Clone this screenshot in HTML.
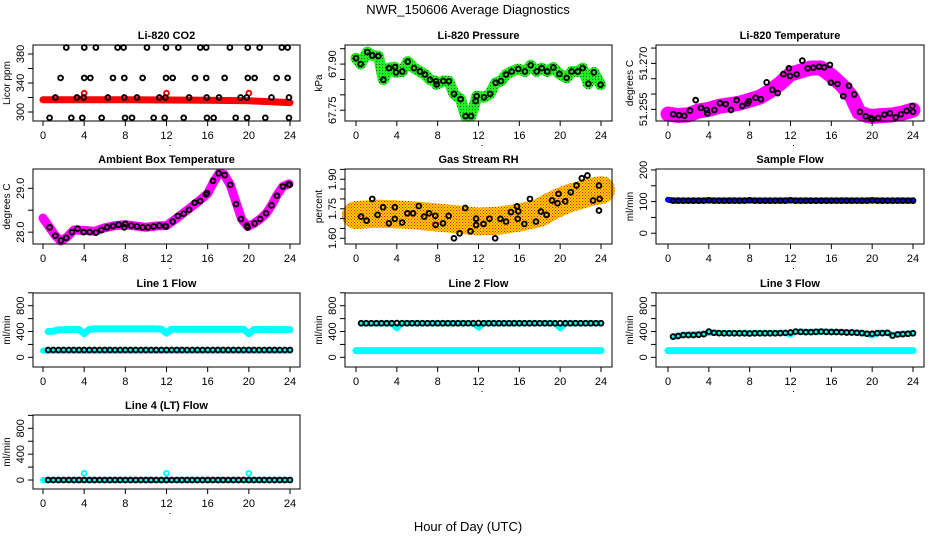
<!DOCTYPE html>
<html><head><meta charset="utf-8">
<style>
html,body{margin:0;padding:0;background:#fff;}
svg{display:block;font-family:"Liberation Sans",sans-serif;}
</style></head>
<body>
<svg id="chart" width="936" height="540" viewBox="0 0 936 540" xmlns="http://www.w3.org/2000/svg">
<defs>
<pattern id="rhpat" width="3" height="3" patternUnits="userSpaceOnUse">
<rect width="3" height="3" fill="#ffd400"/><rect x="0" y="0" width="1" height="1" fill="#e8140a"/><rect x="1.5" y="1.5" width="1" height="1" fill="#e8140a"/>
</pattern>
<pattern id="grpat" width="3" height="3" patternUnits="userSpaceOnUse">
<rect width="3" height="3" fill="#22ee22"/><rect x="1" y="1" width="1" height="1" fill="#116611"/>
</pattern>
</defs>
<text x="468" y="14" text-anchor="middle" font-size="13">NWR_150606  Average Diagnostics</text>
<text x="468" y="531" text-anchor="middle" font-size="13">Hour of Day (UTC)</text>
</svg>
<script>
// ---------- data ----------
const xTicks = [0,4,8,12,16,20,24];

const co2Hours = [2.26,4.01,5.14,7.25,7.83,10.1,11.95,13.15,15.28,15.86,18.16,19.9,21.05,23.2,23.77,
 1.71,4.01,4.6,6.8,7.9,9.68,11.95,12.6,14.77,15.86,17.65,19.9,20.56,22.7,23.77,
 1.2,3.3,3.95,6.3,7.9,9.13,11.3,11.9,14.2,15.9,17.1,19.2,19.8,22.2,23.9,
 0.64,2.75,3.82,5.7,7.97,8.65,10.75,11.82,13.67,15.93,16.58,18.72,19.82,21.6,23.9];
const co2Values = [389,389,389,389,389,389,389,389,389,389,389,389,389,389,389,
 347,347,347,347,347,347,347,347,347,347,347,347,347,347,347,
 320,320,320,320,320,320,320,320,320,320,320,320,320,320,320,
 292,292,292,292,292,292,292,292,292,292,292,292,292,292,292];
const co2BandHours = [0,4,8,12,16,20,24];
const co2BandValues = [317,317,316.8,316.5,316.2,315.5,313];
const co2SpikeHours = [4,12,20];
const co2SpikeValues = [326,326,326];

const pressHours = [0,0.46,1.11,1.6,2.19,2.68,3.23,3.82,3.92,4.54,5.06,5.68,6.27,6.76,7.25,7.84,7.9,8.55,9.1,9.6,10.25,10.74,11.27,11.72,11.82,12.54,13.13,13.68,14.2,14.7,15.25,15.9,16.55,17.11,17.7,18.19,18.74,19.33,19.92,20.64,21.13,21.72,22.2,22.76,23.3,23.96];
const pressValues = [67.919,67.90,67.939,67.928,67.926,67.849,67.887,67.890,67.873,67.876,67.908,67.887,67.876,67.866,67.849,67.844,67.834,67.845,67.844,67.803,67.786,67.731,67.731,67.780,67.796,67.792,67.803,67.839,67.845,67.866,67.876,67.884,67.876,67.896,67.876,67.887,67.876,67.889,67.868,67.855,67.876,67.876,67.887,67.836,67.873,67.833];

const tempHours = [0.52,1.08,1.6,2.15,2.71,3.23,3.79,3.85,4.54,5.09,5.65,6.17,6.72,7.28,7.8,7.93,8.58,9.1,9.66,10.22,10.74,11.3,11.85,11.95,12.6,13.16,13.68,14.24,14.8,15.3,15.86,15.96,16.6,17.17,17.73,18.25,18.8,19.37,19.88,20.0,20.6,21.2,21.74,22.3,22.82,23.38,23.93,24.0];
const tempValues = [51.2534,51.2531,51.2529,51.2546,51.2580,51.2555,51.2548,51.2537,51.2548,51.2570,51.2567,51.2548,51.2580,51.2561,51.2570,51.2577,51.2588,51.2583,51.2638,51.2614,51.2603,51.2665,51.2684,51.2659,51.2664,51.2709,51.2684,51.2686,51.2689,51.2687,51.2695,51.2637,51.2633,51.2593,51.2627,51.2599,51.2542,51.2527,51.2522,51.2518,51.2522,51.2533,51.2537,51.2524,51.2534,51.2545,51.2561,51.2542];
const tempBandHours = [0,1,2,3,4,5,6,7,8,9,10,11,12,13,14,15,16,17,18,18.7,19.5,20,21,22,23,24];
const tempBandValues = [51.2535,51.2530,51.2532,51.2545,51.2550,51.2560,51.2565,51.2570,51.2580,51.2590,51.2610,51.2635,51.2665,51.2675,51.2685,51.2685,51.2660,51.2630,51.2590,51.2540,51.2530,51.2527,51.2530,51.2532,51.2538,51.2548];

const ambHours = [0.64,1.2,1.75,2.26,2.81,3.36,3.95,4.53,5.15,5.67,6.22,6.8,7.35,7.9,8.0,8.58,9.13,9.68,10.2,10.75,11.3,11.88,11.95,12.6,13.1,13.67,14.2,14.73,15.28,15.83,15.93,16.52,17.07,17.65,18.2,18.75,19.24,19.82,19.88,20.56,21.1,21.67,22.2,22.73,23.3,23.87,23.97];
const ambValues = [28.11,27.92,27.81,27.87,28.0,28.08,28.0,28.0,27.99,28.05,28.11,28.14,28.17,28.11,28.19,28.15,28.13,28.11,28.11,28.13,28.15,28.14,28.13,28.24,28.37,28.42,28.51,28.67,28.71,28.86,28.89,29.17,29.34,29.30,29.08,28.64,28.30,28.15,28.11,28.20,28.30,28.43,28.61,28.83,29.04,29.09,29.08];
const ambBandHours = [0,0.6,1.2,1.7,2.3,3,4,5,6,7,8,9,10,11,12,13,14,15,16,16.6,17.1,17.6,18.2,18.8,19.3,19.9,20.5,21.1,21.7,22.2,22.7,23.3,23.9];
const ambBandValues = [28.32,28.12,27.92,27.80,27.88,28.05,28.04,28.02,28.10,28.15,28.17,28.14,28.11,28.14,28.15,28.32,28.50,28.68,28.88,29.15,29.34,29.32,29.08,28.65,28.30,28.13,28.20,28.30,28.43,28.61,28.83,29.04,29.10];

const rhHours = [0.49,1.04,1.59,2.11,2.66,3.22,3.8,3.8,4.52,5.04,5.59,6.15,6.67,7.16,7.77,7.8,8.52,9.07,9.6,10.15,10.7,11.22,11.77,11.77,12.49,13.07,13.63,14.15,14.7,15.19,15.77,15.84,15.9,16.49,17.04,17.63,18.12,18.67,19.2,19.74,19.84,20.49,21.04,21.6,22.12,22.67,23.22,23.8,23.8,23.87];
const rhValues = [1.710,1.690,1.800,1.719,1.758,1.676,1.758,1.699,1.680,1.727,1.727,1.764,1.710,1.727,1.714,1.668,1.676,1.714,1.600,1.625,1.754,1.636,1.700,1.668,1.673,1.699,1.600,1.699,1.685,1.733,1.762,1.699,1.737,1.673,1.800,1.685,1.736,1.719,1.792,1.778,1.826,1.788,1.834,1.868,1.905,1.919,1.792,1.868,1.741,1.800];
const rhBandHours = [0,2,4,6,8,10,12,14,16,18,19,20,21,22,23,24];
const rhBandValues = [1.718,1.725,1.722,1.715,1.705,1.695,1.685,1.690,1.705,1.730,1.760,1.785,1.805,1.820,1.835,1.845];

const flowHours = [0.5,1,1.5,2,2.5,3,3.5,4,4.5,5,5.5,6,6.5,7,7.5,8,8.5,9,9.5,10,10.5,11,11.5,12,12.5,13,13.5,14,14.5,15,15.5,16,16.5,17,17.5,18,18.5,19,19.5,20,20.5,21,21.5,22,22.5,23,23.5,24];
const sampleFlow = [103,103,103,103,103,103,103,104,103,103,103,103,103,103,103,104,103,103,103,103,103,103,103,104,103,103,103,103,103,103,103,103,103,103,103,103,103,103,103,104,103,103,103,103,103,103,103,103];
const line1Flow = [114,114,114,114,114,114,114,114,114,114,114,114,114,114,114,114,114,114,114,114,114,114,114,114,114,114,114,114,114,114,114,114,114,114,114,114,114,114,114,114,114,114,114,114,114,114,114,114];
const line1Cyan = [400,405,425,428,430,432,432,370,432,440,440,440,440,440,440,440,440,440,440,440,440,440,436,375,436,436,436,436,436,436,436,436,434,434,434,434,434,434,434,365,432,432,432,430,430,430,430,430];
const line2Flow = [528,528,528,528,528,528,528,530,528,528,528,528,528,528,528,528,528,528,528,528,528,528,528,530,528,528,528,528,528,528,528,528,528,528,528,528,528,528,528,528,528,528,528,528,528,528,528,528];
const line2Cyan = [525,525,525,525,525,525,525,450,528,530,528,528,528,528,528,528,528,528,528,528,528,528,528,460,530,530,528,528,528,528,528,528,528,528,528,528,528,528,528,450,528,528,528,528,528,528,528,528];
const line3Flow = [321,330,345,345,345,350,360,399,380,375,373,373,373,373,373,370,373,373,373,373,373,375,378,385,399,395,390,390,395,399,395,392,392,390,385,385,380,375,365,365,375,375,380,337,355,360,365,373];
const line3Cyan = [320,330,350,355,355,360,365,380,380,378,376,376,376,376,376,372,376,376,376,376,376,378,380,350,400,398,394,394,398,400,398,395,394,392,388,388,384,378,365,340,378,378,382,345,360,365,368,375];
const lowCyan = [104,104,104,104,104,104,104,104,104,104,104,104,104,104,104,104,104,104,104,104,104,104,104,104,104,104,104,104,104,104,104,104,104,104,104,104,104,104,104,104,104,104,104,104,104,104,104,104];
const line4Flow = [0,0,0,0,0,0,0,0,0,0,0,0,0,0,0,0,0,0,0,0,0,0,0,0,0,0,0,0,0,0,0,0,0,0,0,0,0,0,0,0,0,0,0,0,0,0,0,0];
const line4SpikeHours = [4,12,20];
const line4SpikeValues = [104,104,104];

// ---------- drawing ----------
const NS = "http://www.w3.org/2000/svg";
const svg = document.getElementById("chart");
function el(tag, attrs, parent){
  const e = document.createElementNS(NS, tag);
  for (const k in attrs) e.setAttribute(k, attrs[k]);
  (parent||svg).appendChild(e);
  return e;
}
const cols = [{l:33,r:300,x0:43,x24:290},{l:345,r:612,x0:356,x24:601},{l:656,r:924,x0:668,x24:913}];
const rows = [{t:45,b:121},{t:169,b:244},{t:293,b:367},{t:415,b:489}];

function makePanel(name, title, ylab, c, r, ymin, ymax, ticks, labels){
  const C = cols[c], R = rows[r];
  const g = el("g", {});
  
  
  const xs = h => C.x0 + (C.x24 - C.x0) * h / 24;
  const ys = v => R.b - (v - ymin) / (ymax - ymin) * (R.b - R.t);
  const marks = el("g", {}, g);
  
  
  const box = el("rect", {x:C.l, y:R.t, width:C.r-C.l, height:R.b-R.t, fill:"none", stroke:"#000", "stroke-width":1}, g);
  
  
  const t = el("text", {x:(C.l+C.r)/2, y:R.t-6, "text-anchor":"middle", "font-size":11, "font-weight":"bold"}, g);
  t.textContent = title;
  
  
  const yl = el("text", {transform:`translate(${C.l-23},${(R.t+R.b)/2}) rotate(-90)`, "text-anchor":"middle", "font-size":10}, g);
  yl.textContent = ylab;
  
  
  const xa = el("g", {}, g);
  
  
  xTicks.forEach(h => {
    el("line", {x1:xs(h), x2:xs(h), y1:R.b, y2:R.b+5, stroke:"#000"}, xa);
    const tl = el("text", {x:xs(h), y:R.b+18, "text-anchor":"middle", "font-size":11}, xa);
    tl.textContent = h;
    
    
  });
  el("rect", {x:(C.l+C.r)/2+3, y:R.b+24, width:1, height:1, fill:"#000"}, xa);
  const ya = el("g", {}, g);
  
  
  ticks.forEach(v => el("line", {x1:C.l-5, x2:C.l, y1:ys(v), y2:ys(v), stroke:"#000"}, ya));
  labels.forEach(v => {
    const tl = el("text", {transform:`translate(${C.l-9},${ys(v[0])}) rotate(-90)`, "text-anchor":"middle", "font-size":11}, ya);
    tl.textContent = v[1];
    
    
  });
  return {marks, xs, ys};
}
function band(p, hrs, vals, color, w, nm){
  const pts = hrs.map((h,i) => p.xs(h).toFixed(1) + "," + p.ys(vals[i]).toFixed(1)).join(" ");
  const pl = el("polyline", {points:pts, fill:"none", stroke:color, "stroke-width":w, "stroke-linejoin":"round", "stroke-linecap":"round"}, p.marks);
  
  
}
function dots(p, hrs, vals, color, nm, rr){
  hrs.forEach((h,i) => {
    const c = el("circle", {cx:p.xs(h), cy:p.ys(vals[i]), r:rr||2.4, fill:"none", stroke:color, "stroke-width":1.9}, p.marks);
    
    
  });
}
const flowTicks = [0,200,400,600,800,1000];
const flowLabels = [[0,"0"],[400,"400"],[800,"800"]];

let p = makePanel("co2", "Li-820 CO2", "Licor ppm", 0, 0, 287.6, 392.4, [300,320,340,360,380], [[300,"300"],[340,"340"],[380,"380"]]);
band(p, co2BandHours, co2BandValues, "#ff0000", 7, "co2-red-series");
dots(p, co2SpikeHours, co2SpikeValues, "#ff0000", "co2-red-point");
dots(p, co2Hours, co2Values, "#000", "co2-point");

p = makePanel("pressure", "Li-820 Pressure", "kPa", 1, 0, 67.715, 67.962, [67.75,67.80,67.85,67.90,67.95], [[67.75,"67.75"],[67.90,"67.90"]]);
band(p, pressHours, pressValues, "url(#grpat)", 11, "pressure-green-series");
dots(p, pressHours, pressValues, "#000", "pressure-point");

p = makePanel("li820-temp", "Li-820 Temperature", "degrees C", 2, 0, 51.2512, 51.2760, [51.255,51.260,51.265,51.270,51.275], [[51.270,"51.270"],[51.255,"51.255"]]);
band(p, tempBandHours, tempBandValues, "#ff00ff", 15, "li820-temp-magenta-series");
dots(p, tempHours, tempValues, "#000", "li820-temp-point");

p = makePanel("ambient-temp", "Ambient Box Temperature", "degrees C", 0, 1, 27.73, 29.44, [28.0,28.5,29.0], [[28.0,"28.0"],[29.0,"29.0"]]);
band(p, ambBandHours, ambBandValues, "#ff00ff", 9, "ambient-magenta-series");
dots(p, ambHours, ambValues, "#000", "ambient-point");

p = makePanel("gas-rh", "Gas Stream RH", "percent", 1, 1, 1.571, 1.952, [1.60,1.65,1.70,1.75,1.80,1.85,1.90,1.95], [[1.60,"1.60"],[1.75,"1.75"],[1.90,"1.90"]]);
band(p, rhBandHours, rhBandValues, "url(#rhpat)", 28, "rh-orange-series");
dots(p, rhHours, rhValues, "#000", "rh-point");

p = makePanel("sample-flow", "Sample Flow", "ml/min", 2, 1, -34, 203, [0,50,100,150,200], [[0,"0"],[100,"100"],[200,"200"]]);
band(p, [0].concat(flowHours), [106].concat(sampleFlow), "#0000ff", 6, "sample-flow-blue-series");
dots(p, flowHours, sampleFlow, "#000", "sample-flow-point");

p = makePanel("line1-flow", "Line 1 Flow", "ml/min", 0, 2, -150, 997, flowTicks, flowLabels);
band(p, flowHours, line1Cyan, "#00ffff", 7, "line1-cyan-series");
band(p, [0].concat(flowHours), [104].concat(lowCyan), "#00ffff", 6, "line1-cyan-low-series");
dots(p, flowHours, line1Flow, "#000", "line1-point");

p = makePanel("line2-flow", "Line 2 Flow", "ml/min", 1, 2, -150, 997, flowTicks, flowLabels);
band(p, [0].concat(flowHours), [104].concat(lowCyan), "#00ffff", 7, "line2-cyan-low-series");
band(p, flowHours, line2Cyan, "#00ffff", 6, "line2-cyan-series");
dots(p, flowHours, line2Flow, "#000", "line2-point");

p = makePanel("line3-flow", "Line 3 Flow", "ml/min", 2, 2, -150, 997, flowTicks, flowLabels);
band(p, [0].concat(flowHours), [104].concat(lowCyan), "#00ffff", 7, "line3-cyan-low-series");
band(p, flowHours, line3Cyan, "#00ffff", 6, "line3-cyan-series");
dots(p, flowHours, line3Flow, "#000", "line3-point");

p = makePanel("line4-flow", "Line 4 (LT) Flow", "ml/min", 0, 3, -139, 1006, flowTicks, flowLabels);
band(p, [0].concat(flowHours), [0].concat(line4Flow), "#00ffff", 6, "line4-cyan-series");
dots(p, line4SpikeHours, line4SpikeValues, "#00ffff", "line4-cyan-point");
dots(p, flowHours, line4Flow, "#000", "line4-point");
</script>
</body></html>
